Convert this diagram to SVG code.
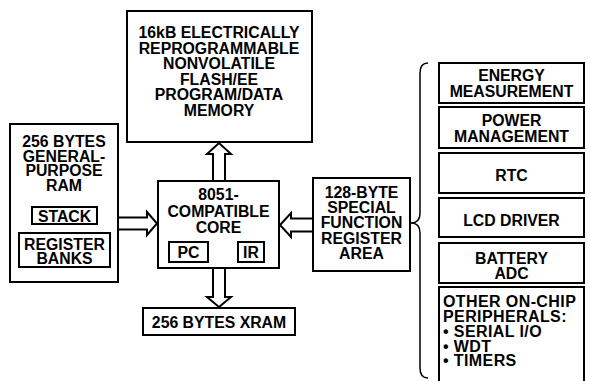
<svg xmlns="http://www.w3.org/2000/svg" width="590" height="381" viewBox="0 0 590 381">
<style>
.b{fill:#fff;stroke:#000;stroke-width:2}
.t{font-family:"Liberation Sans",Arial,Helvetica,sans-serif;font-weight:bold;font-size:15.8px;fill:#000;text-anchor:middle}
.l{text-anchor:start;font-size:16px;letter-spacing:0.4px}
.a{fill:#fff;stroke:#000;stroke-width:2;stroke-linejoin:miter}
</style>
<rect width="590" height="381" fill="#fff"/>
<g id="connectors">
<path class="a" d="M213,181 L213,154 L207,154 L219,143 L231,154 L225,154 L225,181"/>
<path class="a" d="M213,268 L213,297 L207,297 L219,307 L231,297 L225,297 L225,268"/>
<path class="a" d="M118,217.5 L147,217.5 L147,212 L157,223.5 L147,235 L147,229.5 L118,229.5"/>
<path class="a" d="M313,218.5 L291,218.5 L291,213 L280,225 L291,237 L291,231.5 L313,231.5"/>
<path d="M428,63 Q420,63 420,73 L420,213 Q420,223 411,223 Q420,223 420,233 L420,368 Q420,378 428,378" fill="none" stroke="#000" stroke-width="1.5"/>
</g>
<g id="flash">
<rect class="b" x="127" y="11" width="185" height="131"/>
<text class="t" x="219" y="38">16kB ELECTRICALLY</text>
<text class="t" x="219" y="53.5">REPROGRAMMABLE</text>
<text class="t" x="219" y="69">NONVOLATILE</text>
<text class="t" x="219" y="84.5">FLASH/EE</text>
<text class="t" x="219" y="100">PROGRAM/DATA</text>
<text class="t" x="219" y="115.5">MEMORY</text>
</g>
<g id="ram">
<rect class="b" x="10" y="124" width="108" height="158"/>
<text class="t" x="64" y="147">256 BYTES</text>
<text class="t" x="64" y="161.5">GENERAL-</text>
<text class="t" x="64" y="176">PURPOSE</text>
<text class="t" x="64" y="190.5">RAM</text>
</g>
<g id="stack">
<rect class="b" x="32" y="207" width="65" height="17"/>
<text class="t" x="64.5" y="221.5">STACK</text>
</g>
<g id="banks">
<rect class="b" x="19" y="233" width="91" height="34"/>
<text class="t" x="64.5" y="249.5">REGISTER</text>
<text class="t" x="64.5" y="264">BANKS</text>
</g>
<g id="core">
<rect class="b" x="158" y="181" width="121" height="87"/>
<text class="t" x="218.5" y="200">8051-</text>
<text class="t" x="218.5" y="216.5">COMPATIBLE</text>
<text class="t" x="218.5" y="233">CORE</text>
</g>
<g id="pc">
<rect class="b" x="169" y="242" width="39" height="20"/>
<text class="t" x="188.5" y="258">PC</text>
</g>
<g id="ir">
<rect class="b" x="238" y="242" width="26" height="20"/>
<text class="t" x="251" y="258">IR</text>
</g>
<g id="xram">
<rect class="b" x="143" y="308" width="152" height="27"/>
<text class="t" x="219" y="328">256 BYTES XRAM</text>
</g>
<g id="sfr">
<rect class="b" x="313" y="178" width="97" height="93"/>
<text class="t" x="361.5" y="198">128-BYTE</text>
<text class="t" x="361.5" y="213">SPECIAL</text>
<text class="t" x="361.5" y="228">FUNCTION</text>
<text class="t" x="361.5" y="243.5">REGISTER</text>
<text class="t" x="361.5" y="259">AREA</text>
</g>
<g id="energy">
<rect class="b" x="439" y="63" width="145" height="40"/>
<text class="t" x="511.5" y="81">ENERGY</text>
<text class="t" x="511.5" y="96.5">MEASUREMENT</text>
</g>
<g id="power">
<rect class="b" x="439" y="107" width="145" height="41"/>
<text class="t" x="511.5" y="126">POWER</text>
<text class="t" x="511.5" y="141.5">MANAGEMENT</text>
</g>
<g id="rtc">
<rect class="b" x="439" y="153" width="145" height="40"/>
<text class="t" x="511.5" y="180.5">RTC</text>
</g>
<g id="lcd">
<rect class="b" x="439" y="198" width="145" height="39"/>
<text class="t" x="511.5" y="226">LCD DRIVER</text>
</g>
<g id="battery">
<rect class="b" x="439" y="243" width="145" height="40"/>
<text class="t" x="511.5" y="264">BATTERY</text>
<text class="t" x="511.5" y="279">ADC</text>
</g>
<g id="other">
<rect class="b" x="439" y="287" width="145" height="100"/>
<text class="t l" x="443" y="307">OTHER ON-CHIP</text>
<text class="t l" x="443" y="322">PERIPHERALS:</text>
<text class="t l" x="443" y="337">• SERIAL I/O</text>
<text class="t l" x="443" y="351.5">• WDT</text>
<text class="t l" x="443" y="366">• TIMERS</text>
</g>
</svg>
